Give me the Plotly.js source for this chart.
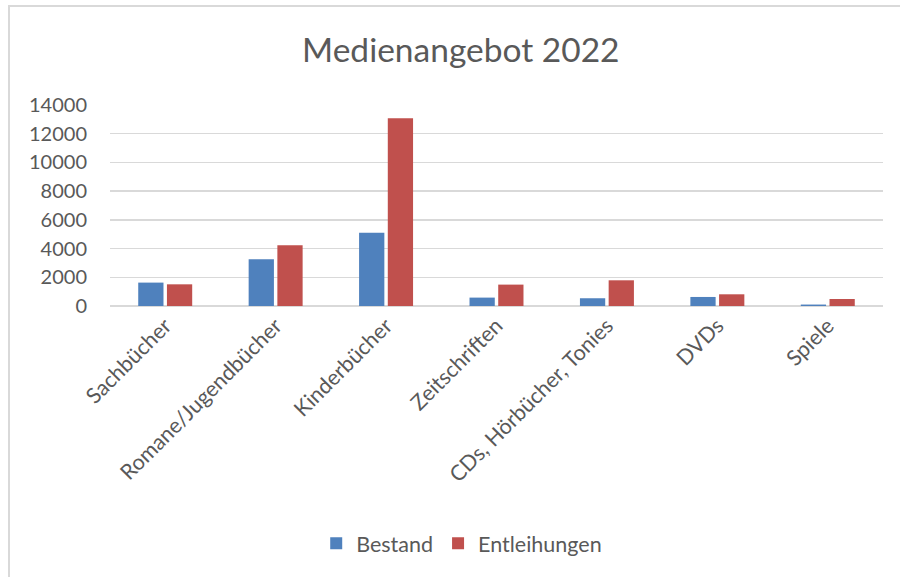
<!DOCTYPE html>
<html>
<head>
<meta charset="utf-8">
<script src="https://cdn.plot.ly/plotly-3.0.1.min.js"></script>
<style>
html,body{margin:0;padding:0;background:#fff;}
#wrap{position:relative;width:900px;height:577px;overflow:hidden;}
#chart{width:900px;height:577px;}
#frame{position:absolute;left:8px;top:5px;width:1000px;height:700px;border-top:2px solid #d9d9d9;border-left:2px solid #d9d9d9;pointer-events:none;}
</style>
</head>
<body>
<div id="wrap"><div id="chart"></div><div id="frame"></div></div>
<script>
const categories = ["Sachbücher", "Romane/Jugendbücher", "Kinderbücher", "Zeitschriften", "CDs, Hörbücher, Tonies", "DVDs", "Spiele"];
const bestand = [1630, 3250, 5110, 585, 540, 630, 100];
const entleihungen = [1510, 4230, 13070, 1490, 1790, 815, 490];
const yTicks = [0, 2000, 4000, 6000, 8000, 10000, 12000, 14000];
const seriesNames = ["Bestand", "Entleihungen"];

const font = "Lato, 'Open Sans', 'Liberation Sans', sans-serif";
const textColor = "#595959";

const data = [
  {type: "bar", name: seriesNames[0], x: categories, y: bestand, marker: {color: "#4f81bd"}},
  {type: "bar", name: seriesNames[1], x: categories, y: entleihungen, marker: {color: "#c0504d"}}
];

const layout = {
  width: 900, height: 577,
  margin: {l: 110, r: 17, t: 105, b: 271, pad: 0},
  paper_bgcolor: "#ffffff", plot_bgcolor: "#ffffff",
  font: {family: font, color: textColor, size: 20},
  title: {text: "Medienangebot 2022", x: 0.512, xref: "container", xanchor: "center", y: 0.913, yref: "container", yanchor: "middle", font: {size: 33.5, color: textColor, family: font}},
  barmode: "group", bargap: 0.48, bargroupgap: 0.12,
  showlegend: true,
  legend: {orientation: "h", x: 0.455, xanchor: "center", y: -1.18, yanchor: "middle", font: {size: 21.5, color: textColor}, itemwidth: 30, traceorder: "normal"},
  xaxis: {type: "category", tickangle: -45, showgrid: false, showline: false, zeroline: false, ticks: "", tickfont: {size: 21.5, color: textColor}, ticklabelstandoff: 2},
  yaxis: {range: [0, 14000], tickvals: yTicks, ticktext: yTicks.map(String), showgrid: true, gridcolor: "#d9d9d9", gridwidth: 1.5, zeroline: true, zerolinecolor: "#d9d9d9", zerolinewidth: 1.5, showline: false, ticks: "", tickfont: {size: 20, color: textColor}, ticklabelstandoff: 22}
};

Plotly.newPlot("chart", data, layout, {displayModeBar: false, staticPlot: true});
</script>
</body>
</html>
